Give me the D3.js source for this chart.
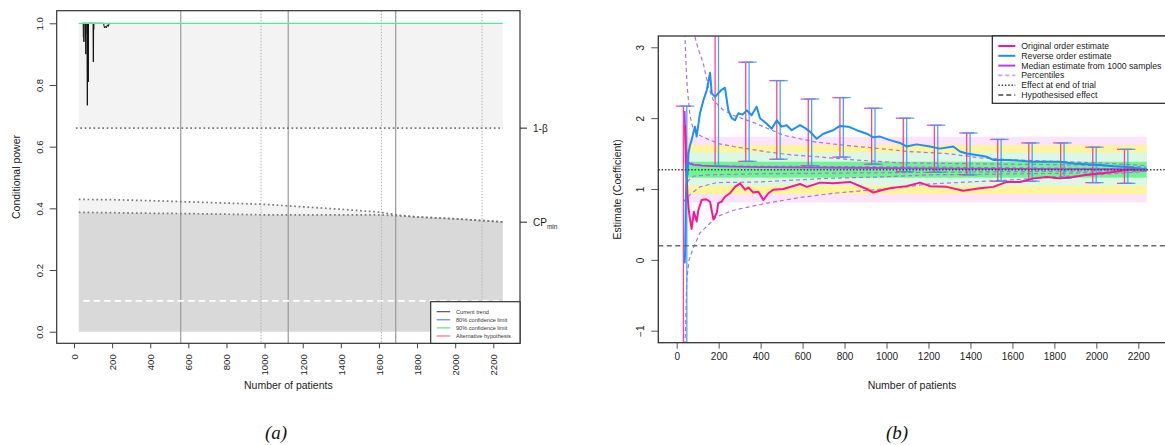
<!DOCTYPE html>
<html>
<head>
<meta charset="utf-8">
<script src="https://cdn.jsdelivr.net/npm/d3@7"></script>
<style>
  html, body { margin: 0; padding: 0; background: #fff; }
  svg { display: block; font-family: "Liberation Sans", Arial, Helvetica, sans-serif; }
</style>
</head>
<body>
<script>
// ---------- Panel (a): conditional power ----------
const cpTicksX = [0, 200, 400, 600, 800, 1000, 1200, 1400, 1600, 1800, 2000, 2200];
const cpTicksY = [0, 0.2, 0.4, 0.6, 0.8, 1.0];
const oneMinusBeta = 0.66;
const cpMinLevel = 0.355;
const futilityLevel = 0.1;
const cpStartN = 25, cpEndN = 2250;
const interimSolid = [560, 1124, 1688];
const interimDotted = [981, 1613, 2141];

// upper / lower conditional power bounds through the trial
const cpBoundN     = [25, 200, 400, 600, 800, 1000, 1200, 1400, 1600, 1700, 1800, 2000, 2250];
const cpBoundUpper = [0.429, 0.428, 0.425, 0.421, 0.417, 0.413, 0.405, 0.397, 0.388, 0.378, 0.372, 0.366, 0.356];
const cpBoundLower = [0.387, 0.386, 0.384, 0.383, 0.381, 0.379, 0.379, 0.379, 0.379, 0.376, 0.372, 0.366, 0.356];

// current trend conditional power (early patients)
const trendN  = [45, 51, 52, 53, 60, 62, 63, 68, 70, 71, 74, 75, 76, 100, 101, 102, 103, 155, 160, 165, 170, 175, 180, 185, 190];
const trendCP = [1, 1, 0.94, 1, 1, 0.90, 1, 1, 0.734, 1, 1, 0.81, 1, 1, 0.875, 0.875, 1, 1, 0.985, 0.99, 0.985, 0.995, 0.99, 1, 1];
const trendGreyN  = [46, 48, 49, 51, 64, 66, 67, 69, 104, 106, 107];
const trendGreyCP = [1, 0.955, 0.955, 1, 1, 0.965, 0.965, 1, 1, 0.98, 1];
const cp90N  = [25, 2250];
const cp90CP = [1.0, 1.0];

const legendA = ["Current trend", "80% confidence limit", "90% confidence limit", "Alternative hypothesis"];
const legendAColors = ["#444444", "#4a78ff", "#3fe58a", "#ff5c99"];

// ---------- Panel (b): estimates ----------
const estTicksX = [0, 200, 400, 600, 800, 1000, 1200, 1400, 1600, 1800, 2000, 2200];
const estTicksY = [-1, 0, 1, 2, 3];
const endEffect = 1.272;
const hypEffect = 0.2;
const bandStartN = 40, bandEndN = 2240;
const bandLo = [0.81, 0.925, 1.046, 1.16];
const bandHi = [1.737, 1.62, 1.517, 1.385];
const bandColors = ["#fbe4fb", "#fdf49c", "#dcf8e4", "#6ff590"];

const origN = [40, 44, 48, 51, 56, 62, 71, 82, 95, 103, 119, 140, 159, 175, 191, 198, 214, 230, 254, 278, 302, 326, 341, 365, 389, 413, 437, 460, 508, 588, 620, 683, 746, 826, 906, 937, 985, 1016, 1064, 1095, 1159, 1207, 1287, 1366, 1446, 1509, 1573, 1637, 1700, 1764, 1827, 1891, 1955, 2018, 2082, 2145, 2209, 2240];
const origEst = [1.9, 1.3, 1.15, 0.94, 0.75, 0.6, 0.437, 0.68, 0.54, 0.70, 0.845, 0.855, 0.82, 0.57, 0.66, 0.80, 0.82, 0.89, 0.94, 1.03, 1.08, 0.99, 1.02, 0.95, 0.96, 0.845, 0.94, 0.99, 1.00, 1.07, 1.03, 1.09, 1.08, 1.10, 1.00, 0.95, 0.99, 1.01, 1.03, 1.04, 1.09, 1.04, 1.03, 0.976, 1.01, 1.03, 1.10, 1.10, 1.15, 1.17, 1.15, 1.17, 1.20, 1.22, 1.24, 1.27, 1.28, 1.27];

const revN = [38, 40, 44, 48, 52, 56, 62, 71, 80, 87, 95, 111, 127, 143, 159, 167, 183, 198, 214, 230, 246, 262, 278, 294, 314, 334, 357, 381, 397, 429, 453, 477, 500, 524, 548, 588, 612, 635, 667, 699, 746, 778, 818, 858, 906, 937, 969, 1016, 1064, 1095, 1143, 1207, 1254, 1318, 1350, 1382, 1430, 1477, 1509, 1573, 1637, 1700, 1764, 1827, 1891, 1955, 2018, 2082, 2145, 2209, 2240];
const revEst = [-0.05, 0.1, 0.9, 1.35, 1.2, 1.5, 1.6, 1.69, 1.80, 1.88, 1.74, 2.07, 2.25, 2.39, 2.64, 2.35, 2.30, 2.35, 2.40, 2.43, 2.11, 2.0, 1.97, 2.07, 2.05, 2.11, 2.04, 2.16, 2.0, 1.92, 1.85, 1.97, 1.88, 1.90, 1.83, 1.90, 1.86, 1.81, 1.71, 1.78, 1.83, 1.89, 1.88, 1.83, 1.78, 1.73, 1.74, 1.69, 1.65, 1.60, 1.63, 1.60, 1.57, 1.60, 1.53, 1.50, 1.48, 1.455, 1.41, 1.41, 1.40, 1.385, 1.385, 1.385, 1.36, 1.35, 1.34, 1.32, 1.31, 1.29, 1.28];

const medianN = [38, 40, 44, 48, 52, 60, 80, 120, 200, 400, 800, 1200, 1600, 2000, 2240];
const medianEst = [2.1, 1.85, 1.62, 1.48, 1.40, 1.36, 1.34, 1.33, 1.32, 1.31, 1.30, 1.29, 1.285, 1.28, 1.275];

const pctOuterHiN = [87, 100, 127, 150, 175, 220, 270, 381, 508, 667, 826, 969, 1100, 1287, 1446, 1605, 1800, 2000, 2240];
const pctOuterHi  = [3.15, 3.0, 2.77, 2.45, 2.25, 2.12, 2.04, 1.92, 1.76, 1.66, 1.61, 1.57, 1.53, 1.50, 1.44, 1.41, 1.39, 1.37, 1.33];
const pctMidHiN = [38, 42, 45, 50, 56, 63, 71, 80, 95, 127, 200, 270, 429, 550, 667, 850, 1064, 1300, 1600, 1900, 2240];
const pctMidHi  = [3.3, 2.95, 2.72, 2.45, 2.25, 2.05, 1.93, 1.84, 1.78, 1.73, 1.64, 1.60, 1.525, 1.48, 1.455, 1.41, 1.37, 1.36, 1.35, 1.34, 1.31];
const pctInnerN  = [45, 55, 80, 150, 400, 800, 1200, 1600, 2000, 2240];
const pctInnerHi = [1.55, 1.40, 1.35, 1.33, 1.32, 1.315, 1.31, 1.30, 1.29, 1.28];
const pctInnerLo = [1.0, 1.12, 1.18, 1.20, 1.215, 1.225, 1.235, 1.245, 1.255, 1.265];
const pctMidLoN = [32, 50, 71, 111, 191, 397, 715, 969, 1200, 1500, 1800, 2000, 2240];
const pctMidLo  = [0.82, 0.88, 0.94, 1.03, 1.09, 1.10, 1.15, 1.17, 1.20, 1.21, 1.22, 1.23, 1.25];
const pctOuterLoN = [39, 48, 59, 82, 111, 191, 270, 429, 588, 746, 906, 1064, 1200, 1400, 1600, 1800, 2000, 2240];
const pctOuterLo  = [-1.3, -0.28, 0.0, 0.19, 0.38, 0.61, 0.70, 0.80, 0.88, 0.94, 0.98, 1.02, 1.07, 1.10, 1.13, 1.17, 1.20, 1.25];

// interval bars at each look
const barN  = [32, 183, 329, 477, 627, 778, 929, 1080, 1228, 1382, 1530, 1678, 1830, 1983, 2134];
const barHi = [2.17, 3.4, 2.79, 2.53, 2.27, 2.29, 2.14, 2.0, 1.90, 1.79, 1.70, 1.65, 1.65, 1.59, 1.56];
const barLo = [-1.4, 1.33, 1.39, 1.42, 1.33, 1.45, 1.35, 1.245, 1.235, 1.20, 1.11, 1.11, 1.15, 1.09, 1.08];

const legendB = ["Original order estimate", "Reverse order estimate", "Median estimate from 1000 samples", "Percentiles", "Effect at end of trial", "Hypothesised effect"];

const svg = d3.select("body").append("svg").attr("width", 1165).attr("height", 445);
const zip = (xs, ys) => xs.map((x, i) => [x, ys[i]]);

// ================= Panel (a) =================
const xA = d3.scaleLinear().domain([0, 2200]).range([74, 493.3]);
const yA = d3.scaleLinear().domain([0, 1]).range([331.7, 23.3]);
const boxA = {x0: 56.7, x1: 520, y0: 10.7, y1: 343.3};
const gA = svg.append("g");

// shaded regions
gA.append("rect")
  .attr("x", xA(cpStartN)).attr("y", yA(1))
  .attr("width", xA(cpEndN) - xA(cpStartN)).attr("height", yA(oneMinusBeta) - yA(1))
  .attr("fill", "#f3f3f3");
const boundData = cpBoundN.map((n, i) => ({n, lo: cpBoundLower[i], hi: cpBoundUpper[i]}));
gA.append("path").datum(boundData)
  .attr("d", d3.area().x(d => xA(d.n)).y0(d => yA(d.lo)).y1(d => yA(d.hi)))
  .attr("fill", "#f3f3f3");
gA.append("path").datum(boundData)
  .attr("d", d3.area().x(d => xA(d.n)).y0(yA(0)).y1(d => yA(d.lo)))
  .attr("fill", "#d9d9d9");

// interim analysis lines
gA.selectAll(".vs").data(interimSolid).enter().append("line")
  .attr("x1", d => xA(d)).attr("x2", d => xA(d))
  .attr("y1", boxA.y0).attr("y2", boxA.y1)
  .attr("stroke", "#9a9a9a").attr("stroke-width", 1.2);
gA.selectAll(".vd").data(interimDotted).enter().append("line")
  .attr("x1", d => xA(d)).attr("x2", d => xA(d))
  .attr("y1", boxA.y0).attr("y2", boxA.y1)
  .attr("stroke", "#b8b8b8").attr("stroke-width", 1.1).attr("stroke-dasharray", "1.5,1.5");

// dotted bound lines
const lineA = d3.line().x(d => xA(d[0])).y(d => yA(d[1]));
gA.append("line")
  .attr("x1", xA(10)).attr("x2", xA(cpEndN))
  .attr("y1", yA(oneMinusBeta)).attr("y2", yA(oneMinusBeta))
  .attr("stroke", "#7a7a7a").attr("stroke-width", 1.7).attr("stroke-dasharray", "1.7,2.7");
[cpBoundUpper, cpBoundLower].forEach(arr => {
  gA.append("path").datum(zip(cpBoundN, arr)).attr("d", lineA)
    .attr("fill", "none").attr("stroke", "#7a7a7a").attr("stroke-width", 1.7)
    .attr("stroke-dasharray", "1.7,2.7");
});

// futility threshold
gA.append("line")
  .attr("x1", xA(48)).attr("x2", boxA.x1)
  .attr("y1", yA(futilityLevel)).attr("y2", yA(futilityLevel))
  .attr("stroke", "#ffffff").attr("stroke-width", 1.6).attr("stroke-dasharray", "6.5,4");

// trend lines
gA.append("path").datum(zip(trendGreyN, trendGreyCP)).attr("d", lineA)
  .attr("fill", "none").attr("stroke", "#9a9a9a").attr("stroke-width", 1);
gA.append("path").datum(zip(trendN, trendCP)).attr("d", lineA)
  .attr("fill", "none").attr("stroke", "#111").attr("stroke-width", 1);
gA.append("path").datum(zip(cp90N, cp90CP)).attr("d", lineA)
  .attr("fill", "none").attr("stroke", "#55e59a").attr("stroke-width", 1.3);

// box
gA.append("rect")
  .attr("x", boxA.x0).attr("y", boxA.y0)
  .attr("width", boxA.x1 - boxA.x0).attr("height", boxA.y1 - boxA.y0)
  .attr("fill", "none").attr("stroke", "#333").attr("stroke-width", 1.2);

// x axis
const axA = gA.append("g").attr("transform", `translate(0,${boxA.y1})`)
  .call(d3.axisBottom(xA).tickValues(cpTicksX).tickSize(5).tickFormat(d3.format("d")));
axA.select(".domain").remove();
axA.selectAll(".tick line").attr("stroke", "#444");
axA.selectAll(".tick text")
  .attr("font-size", 9.5).attr("fill", "#222")
  .attr("text-anchor", "end")
  .attr("transform", "translate(0,11) rotate(-90)")
  .attr("x", 0).attr("y", 0).attr("dy", "0.35em");

// y axis
const ayA = gA.append("g").attr("transform", `translate(${boxA.x0},0)`)
  .call(d3.axisLeft(yA).tickValues(cpTicksY).tickSize(7).tickFormat(d3.format(".1f")));
ayA.select(".domain").remove();
ayA.selectAll(".tick line").attr("stroke", "#444");
ayA.selectAll(".tick text")
  .attr("font-size", 9.5).attr("fill", "#222")
  .attr("text-anchor", "middle")
  .attr("transform", "translate(-14,0) rotate(-90)")
  .attr("x", 0).attr("y", 0).attr("dy", 0);

// right-side reference ticks
[[oneMinusBeta, "1-β"], [cpMinLevel, "CP"]].forEach(([v, lab], i) => {
  gA.append("line").attr("x1", boxA.x1).attr("x2", boxA.x1 + 7)
    .attr("y1", yA(v)).attr("y2", yA(v)).attr("stroke", "#333").attr("stroke-width", 1.1);
  const t = gA.append("text").attr("x", boxA.x1 + 13).attr("y", yA(v)).attr("dy", "0.35em")
    .attr("font-size", 10).attr("fill", "#222").text(lab);
  if (i === 1) t.append("tspan").attr("font-size", 6.5).attr("dy", "0.5em").text("min");
});

// titles
gA.append("text").attr("x", (boxA.x0 + boxA.x1) / 2).attr("y", 389)
  .attr("text-anchor", "middle").attr("font-size", 10.5).attr("fill", "#222").text("Number of patients");
gA.append("text").attr("transform", `translate(19.5,${(boxA.y0 + boxA.y1) / 2}) rotate(-90)`)
  .attr("text-anchor", "middle").attr("font-size", 10.5).attr("fill", "#222").text("Conditional power");

// legend
const lgA = gA.append("g").attr("transform", "translate(430.7,301.7)");
lgA.append("rect").attr("width", boxA.x1 - 430.7).attr("height", boxA.y1 - 301.7)
  .attr("fill", "#fff").attr("stroke", "#222").attr("stroke-width", 1.1);
legendA.forEach((lab, i) => {
  const y = 10 + i * 8.1;
  lgA.append("line").attr("x1", 6).attr("x2", 19.5).attr("y1", y).attr("y2", y)
    .attr("stroke", legendAColors[i]).attr("stroke-width", 1.1);
  lgA.append("text").attr("x", 25.3).attr("y", y).attr("dy", "0.35em")
    .attr("font-size", 5.6).attr("fill", "#333").text(lab);
});

// ================= Panel (b) =================
const xB = d3.scaleLinear().domain([0, 2200]).range([676.7, 1138.3]);
const yB = d3.scaleLinear().domain([-1, 3]).range([330.7, 47.3]);
const boxB = {x0: 658.3, x1: 1172, y0: 36, y1: 342.7};
const gB = svg.append("g");
svg.append("defs").append("clipPath").attr("id", "clipB")
  .append("rect").attr("x", boxB.x0).attr("y", boxB.y0)
  .attr("width", boxB.x1 - boxB.x0).attr("height", boxB.y1 - boxB.y0);
const plotB = gB.append("g").attr("clip-path", "url(#clipB)");

// confidence bands
bandLo.forEach((lo, i) => {
  plotB.append("rect")
    .attr("x", xB(bandStartN)).attr("width", xB(bandEndN) - xB(bandStartN))
    .attr("y", yB(bandHi[i])).attr("height", yB(lo) - yB(bandHi[i]))
    .attr("fill", bandColors[i]);
});

const lineB = d3.line().x(d => xB(d[0])).y(d => yB(d[1]));

// percentile curves
[[pctOuterHiN, pctOuterHi], [pctMidHiN, pctMidHi], [pctInnerN, pctInnerHi],
 [pctInnerN, pctInnerLo], [pctMidLoN, pctMidLo], [pctOuterLoN, pctOuterLo]].forEach(([ns, vs]) => {
  plotB.append("path").datum(zip(ns, vs)).attr("d", lineB)
    .attr("fill", "none").attr("stroke", "#ad72e3").attr("stroke-width", 1.2)
    .attr("stroke-dasharray", "4,3");
});

// median estimate
plotB.append("path").datum(zip(medianN, medianEst)).attr("d", lineB)
  .attr("fill", "none").attr("stroke", "#b83cf2").attr("stroke-width", 1.8);

// interval bars
const capW = 7.5;
barN.forEach((n, i) => {
  const specs = [[xB(n), "#ff2d94"], [xB(n) + 3.4, "#3d9cf2"]];
  specs.forEach(([x, c]) => {
    plotB.append("line").attr("x1", x).attr("x2", x)
      .attr("y1", yB(barHi[i])).attr("y2", yB(barLo[i]))
      .attr("stroke", c).attr("stroke-width", 1.3).attr("opacity", 0.9);
    [barHi[i], barLo[i]].forEach(v => {
      plotB.append("line").attr("x1", x - capW).attr("x2", x + capW)
        .attr("y1", yB(v)).attr("y2", yB(v))
        .attr("stroke", c).attr("stroke-width", 1.3).attr("opacity", 0.85);
    });
  });
});

// estimate paths
plotB.append("path").datum(zip(origN, origEst)).attr("d", lineB)
  .attr("fill", "none").attr("stroke", "#ff1493").attr("stroke-width", 2).attr("stroke-linejoin", "round");
plotB.append("path").datum(zip(revN, revEst)).attr("d", lineB)
  .attr("fill", "none").attr("stroke", "#1e8ff5").attr("stroke-width", 2).attr("stroke-linejoin", "round");

// reference effects
plotB.append("line").attr("x1", boxB.x0).attr("x2", boxB.x1)
  .attr("y1", yB(endEffect)).attr("y2", yB(endEffect))
  .attr("stroke", "#444").attr("stroke-width", 1.4).attr("stroke-dasharray", "1.5,1.8");
plotB.append("line").attr("x1", boxB.x0).attr("x2", boxB.x1)
  .attr("y1", yB(hypEffect)).attr("y2", yB(hypEffect))
  .attr("stroke", "#6a6a6a").attr("stroke-width", 1.5).attr("stroke-dasharray", "5,3.5");

// box
gB.append("rect")
  .attr("x", boxB.x0).attr("y", boxB.y0)
  .attr("width", boxB.x1 - boxB.x0).attr("height", boxB.y1 - boxB.y0)
  .attr("fill", "none").attr("stroke", "#333").attr("stroke-width", 1.3);

// axes
const axB = gB.append("g").attr("transform", `translate(0,${boxB.y1})`)
  .call(d3.axisBottom(xB).tickValues(estTicksX).tickSize(6).tickPadding(4).tickFormat(d3.format("d")));
axB.select(".domain").remove();
axB.selectAll(".tick line").attr("stroke", "#555");
axB.selectAll(".tick text").attr("font-size", 10).attr("fill", "#222");

const ayB = gB.append("g").attr("transform", `translate(${boxB.x0},0)`)
  .call(d3.axisLeft(yB).tickValues(estTicksY).tickSize(7).tickFormat(d3.format("d")));
ayB.select(".domain").remove();
ayB.selectAll(".tick line").attr("stroke", "#555");
ayB.selectAll(".tick text")
  .attr("font-size", 10).attr("fill", "#222")
  .attr("text-anchor", "middle")
  .attr("transform", "translate(-14.5,0) rotate(-90)")
  .attr("x", 0).attr("y", 0).attr("dy", 0);

gB.append("text").attr("x", 912).attr("y", 389)
  .attr("text-anchor", "middle").attr("font-size", 10.5).attr("fill", "#222").text("Number of patients");
gB.append("text").attr("transform", `translate(620.5,${(boxB.y0 + boxB.y1) / 2}) rotate(-90)`)
  .attr("text-anchor", "middle").attr("font-size", 10.5).attr("fill", "#222").text("Estimate (Coefficient)");

// legend
const lgB = gB.append("g").attr("transform", "translate(992.3,36)");
lgB.append("rect").attr("width", 200).attr("height", 67.3)
  .attr("fill", "#fff").attr("stroke", "#222").attr("stroke-width", 1.2);
const legendBStyles = [
  {c: "#ff1493", w: 2, dash: null},
  {c: "#1e8ff5", w: 2, dash: null},
  {c: "#b83cf2", w: 2, dash: null},
  {c: "#d39cf0", w: 1.6, dash: "4,3"},
  {c: "#444", w: 1.4, dash: "1.5,1.8"},
  {c: "#444", w: 1.4, dash: "5,3"}
];
legendB.forEach((lab, i) => {
  const y = 10 + i * 9.8;
  const s = legendBStyles[i];
  const ln = lgB.append("line").attr("x1", 6).attr("x2", 23).attr("y1", y).attr("y2", y)
    .attr("stroke", s.c).attr("stroke-width", s.w);
  if (s.dash) ln.attr("stroke-dasharray", s.dash);
  lgB.append("text").attr("x", 29).attr("y", y).attr("dy", "0.35em")
    .attr("font-size", 8.7).attr("fill", "#222").text(lab);
});

// panel captions
[["(a)", 276], ["(b)", 897]].forEach(([t, x]) => {
  svg.append("text").attr("x", x).attr("y", 439).attr("text-anchor", "middle")
    .attr("font-family", "'Liberation Serif', 'Times New Roman', serif")
    .attr("font-style", "italic").attr("font-size", 19).attr("fill", "#111").text(t);
});
</script>
</body>
</html>
